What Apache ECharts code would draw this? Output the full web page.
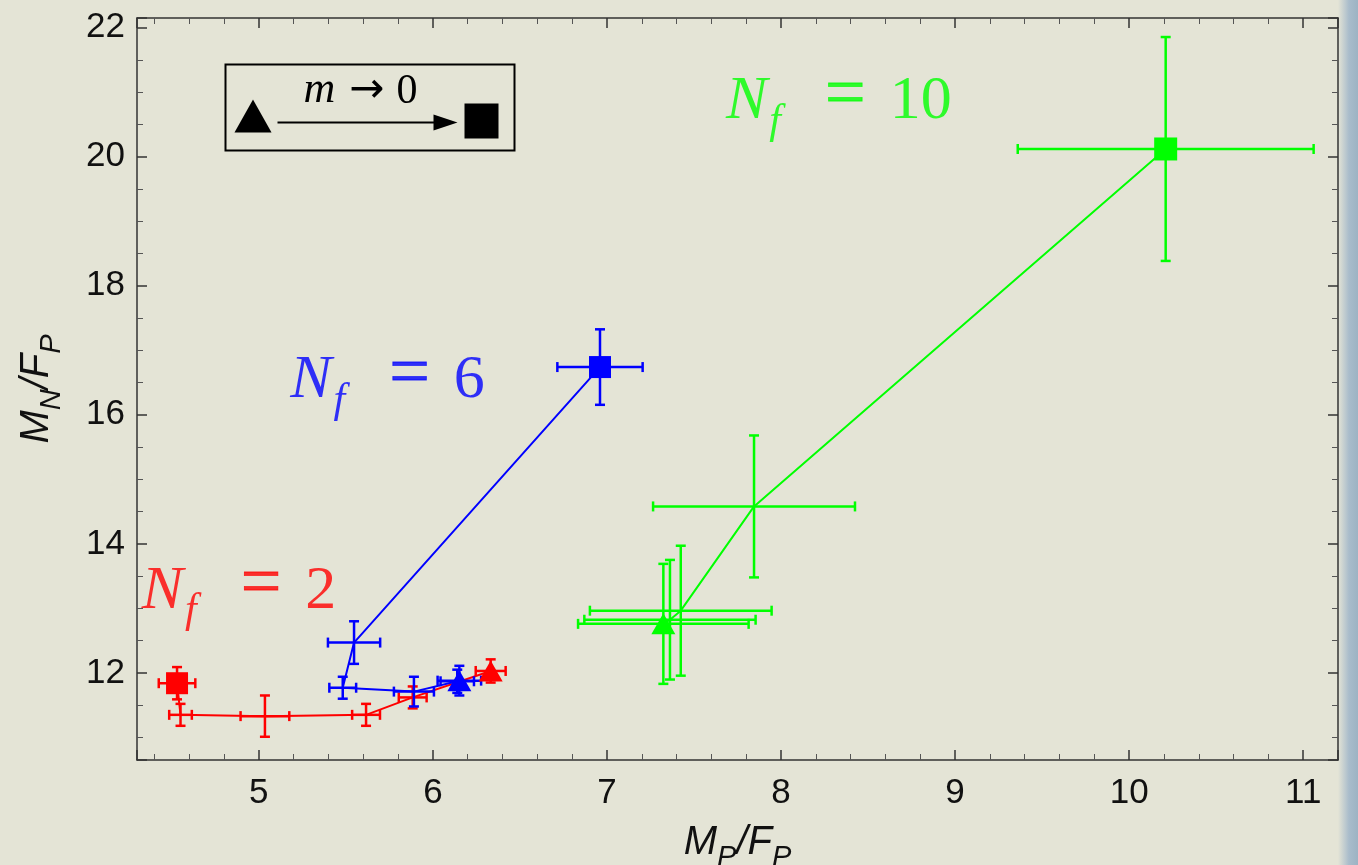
<!DOCTYPE html>
<html>
<head>
<meta charset="utf-8">
<title>M_N/F_P versus M_P/F_P</title>
<script src="https://cdn.jsdelivr.net/npm/echarts@6/dist/echarts.min.js"></script>
<style>
  html, body { margin: 0; padding: 0; width: 1358px; height: 865px; overflow: hidden; background: #e4e4d6; }
  #edge { position: absolute; right: 0; top: 0; width: 20px; height: 865px;
          background: linear-gradient(to right, #e4e4d6, #a9bccb 55%, #9db3c3); }
  #chart { position: absolute; left: 0; top: 0; width: 1358px; height: 865px; }
</style>
</head>
<body>
<div id="edge"></div>
<div id="chart"></div>
<script>
// Axis ranges
const xRange = [4.3, 11.2];
const yRange = [10.65, 22.15];

// N_f = 2 : chiral-limit point first, heaviest mass last
const nf2X    = [4.53, 4.55, 5.035, 5.616, 5.884, 6.332];
const nf2Y    = [11.84, 11.35, 11.33, 11.35, 11.62, 12.03];
const nf2XErr = [0.105, 0.065, 0.14, 0.08, 0.08, 0.086];
const nf2YErr = [0.25, 0.17, 0.32, 0.17, 0.17, 0.18];

// N_f = 6
const nf6X    = [6.96, 5.547, 5.482, 5.891, 6.14, 6.152];
const nf6Y    = [16.74, 12.47, 11.77, 11.71, 11.87, 11.88];
const nf6XErr = [0.245, 0.15, 0.077, 0.115, 0.096, 0.125];
const nf6YErr = [0.585, 0.33, 0.17, 0.23, 0.18, 0.23];

// N_f = 10
const nf10X    = [10.21, 7.845, 7.424, 7.362, 7.324];
const nf10Y    = [20.12, 14.58, 12.964, 12.824, 12.76];
const nf10XErr = [0.85, 0.58, 0.522, 0.492, 0.49];
const nf10YErr = [1.735, 1.1, 1.007, 0.927, 0.93];

// Flavour labels and where they sit (left edge, vertical middle)
const flavourLabels = ['2', '6', '10'];
const labelX = [4.327, 5.18, 7.684];
const labelY = [13.34, 16.60, 20.93];

const RED = '#ff0000', BLUE = '#0000ff', GREEN = '#00ff00';

function pairs(xs, ys) { return xs.map((x, i) => [x, ys[i]]); }
function errRows(xs, ys, xe, ye) { return xs.map((x, i) => [x, ys[i], xe[i], ye[i]]); }

// Error bars with caps, in both x and y
function errorBarSeries(rows, color) {
  return {
    type: 'custom',
    data: rows,
    z: 3,
    clip: true,
    renderItem: function (params, api) {
      const x = api.value(0), y = api.value(1), xe = api.value(2), ye = api.value(3);
      const l = api.coord([x - xe, y]), r = api.coord([x + xe, y]);
      const b = api.coord([x, y - ye]), t = api.coord([x, y + ye]);
      const c = 5;
      const st = { stroke: color, lineWidth: 2.5 };
      const seg = (x1, y1, x2, y2) => ({ type: 'line', shape: { x1, y1, x2, y2 }, style: st });
      return {
        type: 'group',
        children: [
          seg(l[0], l[1], r[0], r[1]),
          seg(b[0], b[1], t[0], t[1]),
          seg(l[0], l[1] - c, l[0], l[1] + c),
          seg(r[0], r[1] - c, r[0], r[1] + c),
          seg(t[0] - c, t[1], t[0] + c, t[1]),
          seg(b[0] - c, b[1], b[0] + c, b[1])
        ]
      };
    }
  };
}

function pathSeries(xs, ys, color) {
  return {
    type: 'line', data: pairs(xs, ys), symbol: 'none', z: 2,
    lineStyle: { color: color, width: 2 }, silent: true, animation: false
  };
}

function markerSeries(x, y, color, symbol, size) {
  return {
    type: 'scatter', data: [[x, y]], symbol: symbol, symbolSize: size, z: 4,
    itemStyle: { color: color, opacity: 1 }, silent: true
  };
}

function flavourLabel(i, color) {
  const serif = 'Liberation Serif';
  return {
    type: 'scatter', data: [[labelX[i], labelY[i]]], symbolSize: 0, z: 5, silent: true,
    label: {
      show: true, position: 'right', distance: 0, color: color,
      formatter: '{n|N}{f|f}{e|=}{v|' + flavourLabels[i] + '}',
      rich: {
        n: { fontFamily: serif, fontStyle: 'italic', fontSize: 62, color: color, verticalAlign: 'bottom' },
        f: { fontFamily: serif, fontStyle: 'italic', fontSize: 42, color: color,
             verticalAlign: 'bottom', padding: [0, 0, -10, 2] },
        e: { fontFamily: serif, fontSize: 72, color: color, verticalAlign: 'bottom', padding: [0, 24, 0, 44],
             textBorderColor: color, textBorderWidth: 0.8 },
        v: { fontFamily: serif, fontSize: 62, color: color, verticalAlign: 'bottom' }
      }
    }
  };
}

const axisColor = '#333';
const nameRich = {
  i: { fontFamily: 'Liberation Sans', fontStyle: 'italic', fontSize: 40, color: '#111' },
  s: { fontFamily: 'Liberation Sans', fontStyle: 'italic', fontSize: 29, color: '#111',
       verticalAlign: 'bottom', padding: [0, 0, -9, 0] }
};
function xAxisDef(pos, withLabels) {
  return {
    type: 'value', min: xRange[0], max: xRange[1], position: pos,
    splitNumber: 7, minInterval: 1, maxInterval: 1,
    axisLine: { show: true, onZero: false, lineStyle: { color: axisColor, width: 1.5 } },
    axisTick: { show: true, inside: true, length: 10, lineStyle: { color: axisColor, width: 1.5 } },
    minorTick: { show: true, splitNumber: 5, length: 6, lineStyle: { color: '#555', width: 1 } },
    splitLine: { show: false },
    axisLabel: { show: withLabels, showMinLabel: false, showMaxLabel: false,
                 fontFamily: 'Liberation Sans', fontSize: 35, color: '#111', margin: 16 },
    name: withLabels ? '{i|M}{s|P}{i|/F}{s|P}' : '',
    nameLocation: 'middle', nameGap: 63,
    nameTextStyle: { rich: nameRich }
  };
}
function yAxisDef(pos, withLabels) {
  return {
    type: 'value', min: yRange[0], max: yRange[1], position: pos,
    splitNumber: 6, minInterval: 2, maxInterval: 2,
    axisLine: { show: true, onZero: false, lineStyle: { color: axisColor, width: 1.5 } },
    axisTick: { show: true, inside: true, length: 10, lineStyle: { color: axisColor, width: 1.5 } },
    minorTick: { show: true, splitNumber: 4, length: 6, lineStyle: { color: '#555', width: 1 } },
    splitLine: { show: false },
    axisLabel: { show: withLabels, showMinLabel: false, showMaxLabel: false,
                 fontFamily: 'Liberation Sans', fontSize: 35, color: '#111', margin: 12 },
    name: withLabels ? '{i|M}{s|N}{i|/F}{s|P}' : '',
    nameLocation: 'middle', nameGap: 80,
    nameTextStyle: { rich: nameRich }
  };
}

const chart = echarts.init(document.getElementById('chart'), null, { renderer: 'canvas' });

const n2 = nf2X.length - 1, n6 = nf6X.length - 1, n10 = nf10X.length - 1;

chart.setOption({
  backgroundColor: 'transparent',
  animation: false,
  grid: { left: 137, right: 20, top: 18, bottom: 105, containLabel: false, outerBoundsMode: 'none' },
  xAxis: [xAxisDef('bottom', true), xAxisDef('top', false)],
  yAxis: [yAxisDef('left', true), yAxisDef('right', false)],
  series: [
    pathSeries(nf2X, nf2Y, RED),
    pathSeries(nf6X, nf6Y, BLUE),
    pathSeries(nf10X, nf10Y, GREEN),
    errorBarSeries(errRows(nf2X, nf2Y, nf2XErr, nf2YErr), RED),
    errorBarSeries(errRows(nf6X, nf6Y, nf6XErr, nf6YErr), BLUE),
    errorBarSeries(errRows(nf10X, nf10Y, nf10XErr, nf10YErr), GREEN),
    markerSeries(nf2X[0], nf2Y[0], RED, 'rect', 22),
    markerSeries(nf2X[n2], nf2Y[n2], RED, 'triangle', [24, 21]),
    markerSeries(nf6X[0], nf6Y[0], BLUE, 'rect', 22),
    markerSeries(nf6X[n6], nf6Y[n6], BLUE, 'triangle', [24, 21]),
    markerSeries(nf10X[0], nf10Y[0], GREEN, 'rect', 23),
    markerSeries(nf10X[n10], nf10Y[n10], GREEN, 'triangle', [24, 21]),
    flavourLabel(0, RED),
    flavourLabel(1, BLUE),
    flavourLabel(2, GREEN)
  ],
  graphic: [
    {
      type: 'group', left: 223, top: 62, silent: true,
      children: [
        { type: 'rect', shape: { x: 0, y: 0, width: 289, height: 86 },
          style: { fill: 'none', stroke: '#000', lineWidth: 2 } },
        { type: 'polygon', shape: { points: [[9, 68], [46, 68], [27.5, 35]] }, style: { fill: '#000' } },
        { type: 'line', shape: { x1: 52, y1: 58, x2: 214, y2: 58 }, style: { stroke: '#000', lineWidth: 2 } },
        { type: 'polygon', shape: { points: [[208, 50], [232, 58], [208, 66]] }, style: { fill: '#000' } },
        { type: 'rect', shape: { x: 239, y: 39, width: 34, height: 35 }, style: { fill: '#000' } },
        { type: 'text', x: 78, y: 26,
          style: {
            text: '{m|m}{a|→}{z|0}', verticalAlign: 'middle', align: 'left',
            rich: {
              m: { fontFamily: 'Liberation Serif', fontStyle: 'italic', fontSize: 44, fill: '#000', verticalAlign: 'bottom' },
              a: { fontFamily: 'DejaVu Sans', fontSize: 42, fill: '#000', padding: [0, 12, 0, 14], verticalAlign: 'bottom' },
              z: { fontFamily: 'Liberation Serif', fontSize: 42, fill: '#000', verticalAlign: 'bottom' }
            }
          } }
      ]
    }
  ]
});
</script>
</body>
</html>
